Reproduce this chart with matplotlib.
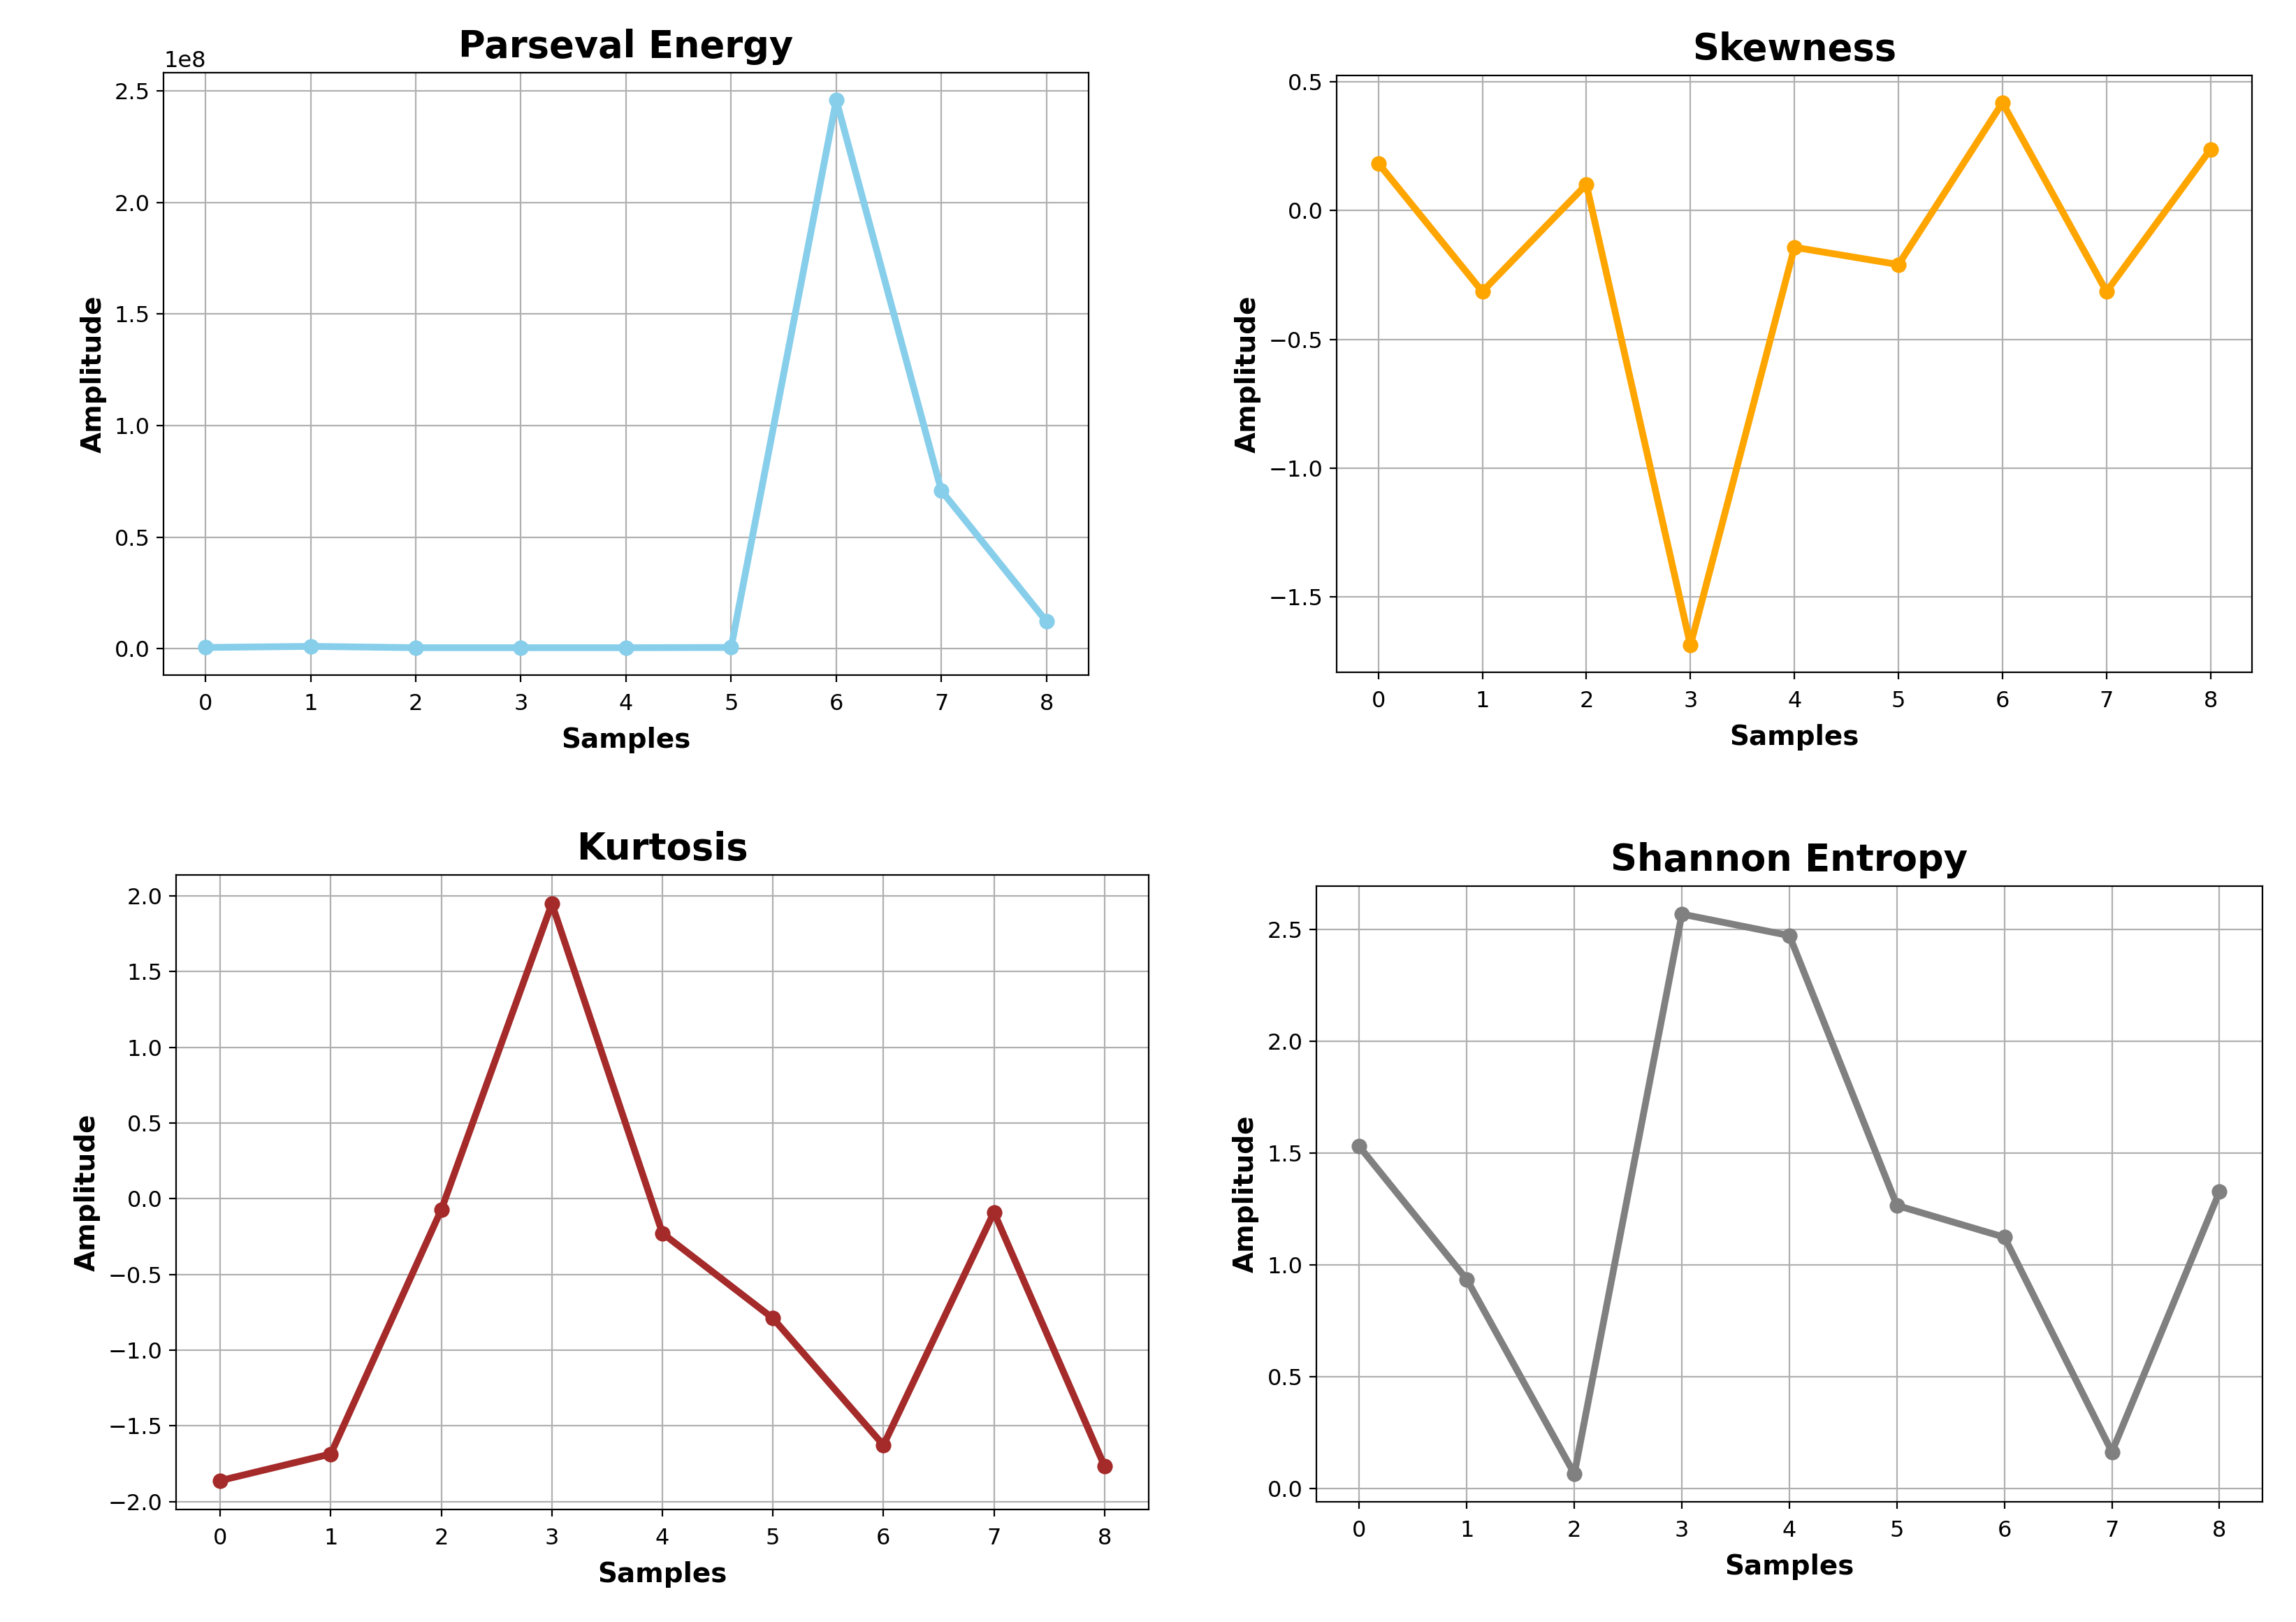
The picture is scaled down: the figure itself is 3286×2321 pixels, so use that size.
import matplotlib
matplotlib.use("Agg")
import matplotlib.pyplot as plt

# === Values
samples = [0, 1, 2, 3, 4, 5, 6, 7, 8]
parseval_energy = [0.5e6, 1.0e6, 0.4e6, 0.4e6, 0.4e6, 0.5e6, 2.46e8, 0.708e8, 0.122e8]
skewness = [0.183, -0.315, 0.101, -1.687, -0.143, -0.21, 0.418, -0.315, 0.237]
kurtosis = [-1.862, -1.686, -0.072, 1.948, -0.228, -0.79, -1.628, -0.09, -1.766]
shannon_entropy = [1.529, 0.934, 0.065, 2.568, 2.472, 1.265, 1.123, 0.163, 1.326]

# each panel was a separate figure in the source, so place axes by hand
panels = [
    ("Parseval Energy", parseval_energy, "skyblue", [0.0712, 0.5838, 0.4029, 0.3714]),
    ("Skewness", skewness, "orange", [0.5822, 0.5855, 0.3987, 0.3679]),
    ("Kurtosis", kurtosis, "brown", [0.0767, 0.0694, 0.4236, 0.3912]),
    ("Shannon Entropy", shannon_entropy, "gray", [0.5733, 0.0741, 0.4121, 0.3796]),
]

fig = plt.figure(figsize=(16.43, 11.605), dpi=200)

for title, values, color, rect in panels:
    ax = fig.add_axes(rect)
    ax.plot(samples, values, marker="o", markersize=7, linewidth=3.5, color=color)
    ax.set_title(title, fontsize=19, fontweight="bold", pad=8)
    ax.set_xlabel("Samples", fontsize=14, fontweight="bold", labelpad=6)
    ax.set_ylabel("Amplitude", fontsize=14, fontweight="bold")
    ax.set_xticks(samples)
    ax.tick_params(labelsize=11.5)
    ax.tick_params(axis="x", pad=6)
    ax.yaxis.get_offset_text().set_fontsize(11.5)
    ax.grid(True)

fig.savefig("out.png", dpi=200)
plt.close(fig)
